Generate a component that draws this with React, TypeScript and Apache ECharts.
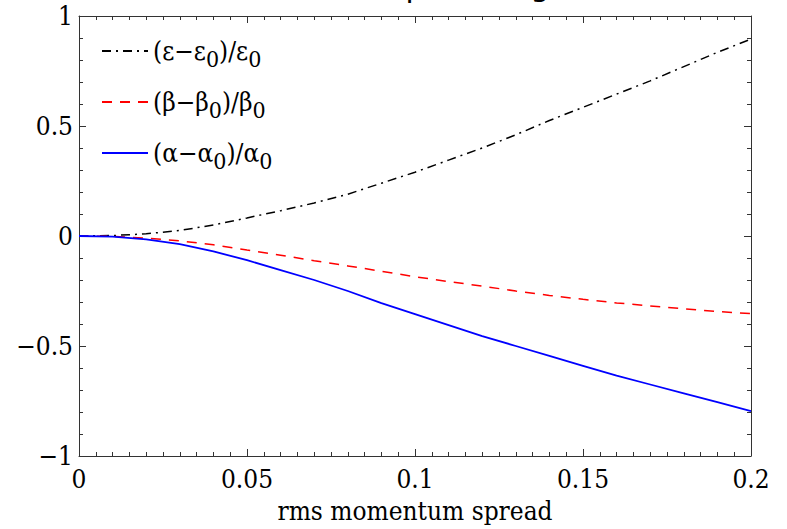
import React, { useEffect, useRef } from "react";
import * as echarts from "echarts";

const spread = [0, 0.01, 0.02, 0.03, 0.04, 0.05, 0.06, 0.07, 0.08, 0.09, 0.1, 0.11, 0.12, 0.13, 0.14, 0.15, 0.16, 0.17, 0.18, 0.19, 0.2];
const emittance = [0, 0.002, 0.01, 0.025, 0.05, 0.082, 0.115, 0.15, 0.19, 0.24, 0.29, 0.345, 0.4, 0.46, 0.525, 0.585, 0.645, 0.705, 0.77, 0.835, 0.895];
const beta = [0, -0.002, -0.01, -0.022, -0.04, -0.064, -0.087, -0.112, -0.136, -0.16, -0.185, -0.207, -0.228, -0.25, -0.27, -0.288, -0.304, -0.318, -0.331, -0.343, -0.353];
const alpha = [0, -0.003, -0.015, -0.037, -0.07, -0.11, -0.155, -0.2, -0.25, -0.305, -0.355, -0.405, -0.455, -0.5, -0.545, -0.59, -0.635, -0.675, -0.715, -0.755, -0.796];

const legendNames = ["eps", "beta", "alpha"];
const legendLabels: Record<string, string> = {
  eps: "{n|(ε−ε}{s|0}{n|)/ε}{s|0}",
  beta: "{n|(β−β}{s|0}{n|)/β}{s|0}",
  alpha: "{n|(α−α}{s|0}{n|)/α}{s|0}",
};
const xTicks = { min: 0, max: 0.2, interval: 0.05 };
const yTicks = { min: -1, max: 1, interval: 0.5 };
const xLabel = "rms momentum spread";

const pair = (ys: number[]) => spread.map((x, i) => [x, ys[i]]);
const fmt = (v: number) => String(v).replace("-", "−");

export default function App() {
  const ref = useRef<HTMLDivElement>(null);
  useEffect(() => {
    document.body.style.margin = "0";
    const chart = echarts.init(ref.current!, null, { renderer: "svg" });
    const serif = "DejaVu Serif Condensed";
    const axisColor = "#333";
    const common = {
      type: "value" as const,
      axisLine: { show: true, onZero: false, lineStyle: { color: axisColor, width: 1 } },
      axisTick: { show: true, inside: true, length: 7, lineStyle: { color: axisColor } },
      minorTick: { show: true, length: 4, lineStyle: { color: axisColor } },
      splitLine: { show: false },
      minorSplitLine: { show: false },
    };
    chart.setOption({
      animation: false,
      backgroundColor: "#fff",
      grid: { left: 79, right: 36, top: 16, bottom: 67 },
      graphic: [
        { type: "text", x: 415, y: 1, style: { text: "p", font: "30px 'DejaVu Sans'", fill: "#000", align: "center", verticalAlign: "bottom" } },
        { type: "text", x: 540, y: 0, style: { text: "g", font: "30px 'DejaVu Sans'", fill: "#000", align: "center", verticalAlign: "bottom" } },
      ],
      legend: {
        orient: "vertical",
        left: 96,
        top: 33,
        itemWidth: 46,
        itemHeight: 10,
        itemGap: 19,
        data: legendNames,
        formatter: (name: string) => legendLabels[name],
        itemStyle: { opacity: 0 },
        textStyle: {
          fontFamily: serif,
          color: "#000",
          rich: {
            n: { fontSize: 26, fontFamily: serif, color: "#000", lineHeight: 38, verticalAlign: "middle" },
            s: { fontSize: 23, fontFamily: serif, color: "#000", lineHeight: 38, verticalAlign: "bottom" },
          },
        },
      },
      xAxis: [
        {
          ...common,
          ...xTicks,
          position: "bottom",
          minorTick: { ...common.minorTick, splitNumber: 10 },
          axisLabel: { fontFamily: serif, fontSize: 26, color: "#000", margin: 10, formatter: fmt },
          name: xLabel,
          nameLocation: "middle",
          nameGap: 42,
          nameTextStyle: { fontFamily: serif, fontSize: 26, color: "#000" },
        },
        {
          ...common,
          ...xTicks,
          position: "top",
          minorTick: { ...common.minorTick, splitNumber: 10 },
          axisLabel: { show: false },
        },
      ],
      yAxis: [
        {
          ...common,
          ...yTicks,
          position: "left",
          minorTick: { ...common.minorTick, splitNumber: 5 },
          axisLabel: { fontFamily: serif, fontSize: 26, color: "#000", margin: 6, formatter: fmt },
        },
        {
          ...common,
          ...yTicks,
          position: "right",
          minorTick: { ...common.minorTick, splitNumber: 5 },
          axisLabel: { show: false },
        },
      ],
      series: [
        {
          name: "eps",
          type: "line",
          data: pair(emittance),
          showSymbol: false,
          symbol: "none",
          lineStyle: { color: "#000", width: 1.5, type: [9, 5, 2, 5] },
          itemStyle: { color: "#000" },
        },
        {
          name: "beta",
          type: "line",
          data: pair(beta),
          showSymbol: false,
          symbol: "none",
          lineStyle: { color: "#ff0000", width: 1.5, type: [10, 8] },
          itemStyle: { color: "#ff0000" },
        },
        {
          name: "alpha",
          type: "line",
          data: pair(alpha),
          showSymbol: false,
          symbol: "none",
          lineStyle: { color: "#0000ff", width: 1.8 },
          itemStyle: { color: "#0000ff" },
        },
      ],
    });
    return () => chart.dispose();
  }, []);
  return <div ref={ref} style={{ width: 787, height: 529 }} />;
}
